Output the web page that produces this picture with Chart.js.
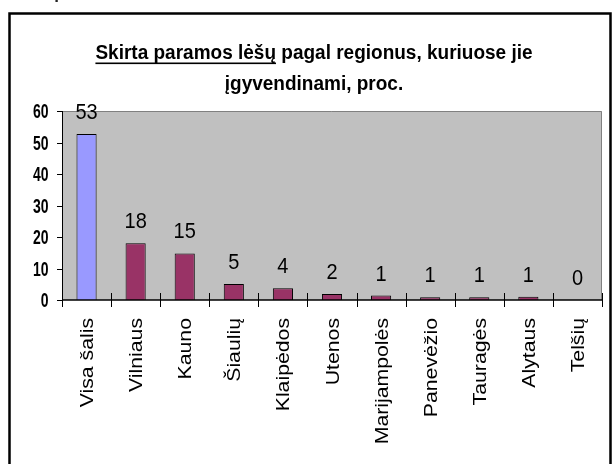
<!DOCTYPE html>
<html>
<head>
<meta charset="utf-8">
<script src="https://cdn.jsdelivr.net/npm/chart.js@4"></script>
<style>
  html, body { margin: 0; padding: 0; background: #fff; }
  #chart { display: block; }
</style>
</head>
<body>
<canvas id="chart" width="612" height="464"></canvas>
<script>
/* ---------- Data ---------- */
const categories = ["Visa šalis", "Vilniaus", "Kauno", "Šiaulių", "Klaipėdos", "Utenos",
  "Marijampolės", "Panevėžio", "Tauragės", "Alytaus", "Telšių"];
const shares = [52.7, 18.0, 14.8, 5.1, 3.7, 1.9, 1.4, 0.9, 0.9, 1.0, 0];
const yMax = 60;
const yStep = 10;
const titleLines = ["Skirta paramos lėšų pagal regionus, kuriuose jie", "įgyvendinami, proc."];
const underlinedPart = "Skirta paramos lėšų";

/* ---------- Styles ---------- */
const FONT = "'Liberation Sans', Arial, sans-serif";
const plotBg = "#C0C0C0";
const firstColor = "#9999FF";
const otherColor = "#993366";

// text that looks a bit stretched, like the scanned original
function stretchedText(ctx, text, x, y, sx, sy) {
  ctx.save();
  ctx.translate(x, y);
  ctx.scale(sx, sy);
  ctx.fillText(text, 0, 0);
  ctx.restore();
}

const framePlugin = {
  id: "frame",
  beforeDraw(chart) {
    const ctx = chart.ctx;
    const a = chart.chartArea;
    ctx.save();
    // cut text from the page above
    ctx.fillStyle = "#222";
    ctx.font = "bold 17px " + FONT;
    ctx.textBaseline = "alphabetic";
    ctx.fillText("1 pav.", 40, -1);
    // outer frame
    ctx.strokeStyle = "#000";
    ctx.lineWidth = 2.5;
    ctx.beginPath();
    ctx.moveTo(9.5, 470);
    ctx.lineTo(9.5, 13.5);
    ctx.lineTo(610.5, 13.5);
    ctx.lineTo(610.5, 470);
    ctx.stroke();
    // plot area
    ctx.fillStyle = plotBg;
    ctx.fillRect(a.left, a.top, a.right - a.left, a.bottom - a.top);
    ctx.strokeStyle = "#808080";
    ctx.lineWidth = 1;
    ctx.beginPath();
    ctx.moveTo(a.left, a.top + 0.5);
    ctx.lineTo(a.right - 0.5, a.top + 0.5);
    ctx.lineTo(a.right - 0.5, a.bottom);
    ctx.stroke();
    ctx.restore();
  }
};

const labelsPlugin = {
  id: "labels",
  afterDatasetsDraw(chart) {
    const ctx = chart.ctx;
    const x = chart.scales.x;
    const y = chart.scales.y;
    const a = chart.chartArea;
    ctx.save();
    // axes lines and tick marks
    ctx.strokeStyle = "#000";
    ctx.lineWidth = 1.5;
    ctx.beginPath();
    ctx.moveTo(a.left, a.bottom);
    ctx.lineTo(a.right, a.bottom);
    ctx.stroke();
    ctx.lineWidth = 1;
    ctx.beginPath();
    ctx.moveTo(a.left + 0.5, a.top);
    ctx.lineTo(a.left + 0.5, a.bottom);
    ctx.stroke();
    for (let i = 0; i <= categories.length; i++) {
      const px = Math.round(x.getPixelForValue(i - 0.5)) + 0.5;
      ctx.beginPath();
      ctx.moveTo(px, a.bottom - 7);
      ctx.lineTo(px, a.bottom + 7);
      ctx.stroke();
    }
    y.ticks.forEach((t) => {
      const py = Math.round(y.getPixelForValue(t.value)) + 0.5;
      ctx.beginPath();
      ctx.moveTo(a.left - 5, py);
      ctx.lineTo(a.left, py);
      ctx.stroke();
    });
    // y tick labels: bold, tall and narrow
    ctx.fillStyle = "#000";
    ctx.font = "bold 14px " + FONT;
    ctx.textAlign = "right";
    ctx.textBaseline = "middle";
    y.ticks.forEach((t) => {
      stretchedText(ctx, String(t.value), 48.5, y.getPixelForValue(t.value) + 1.5, 1, 1.45);
    });
    // value labels
    ctx.font = "20px " + FONT;
    ctx.textAlign = "center";
    chart.getDatasetMeta(0).data.forEach((bar, i) => {
      stretchedText(ctx, String(Math.round(shares[i])), bar.x, bar.y - 21, 1, 1.1);
    });
    // rotated category labels
    ctx.font = "18px " + FONT;
    ctx.textAlign = "right";
    ctx.textBaseline = "alphabetic";
    categories.forEach((name, i) => {
      ctx.save();
      ctx.translate(x.getPixelForValue(i), a.bottom + 18);
      ctx.rotate(-Math.PI / 2);
      ctx.scale(1.18, 1);
      ctx.fillText(name, 0, 6.5);
      ctx.restore();
    });
    // title
    const cx = 314;
    ctx.font = "bold 19px " + FONT;
    ctx.textAlign = "left";
    const w1 = ctx.measureText(titleLines[0]).width;
    const x1 = cx - w1 / 2;
    stretchedText(ctx, titleLines[0], x1, 59, 1, 1.08);
    const wu = ctx.measureText(underlinedPart).width;
    ctx.fillRect(x1, 62.5, wu, 1.6);
    ctx.textAlign = "center";
    stretchedText(ctx, titleLines[1], cx, 90, 1, 1.08);
    ctx.restore();
  }
};

new Chart(document.getElementById("chart"), {
  type: "bar",
  data: {
    labels: categories,
    datasets: [{
      data: shares,
      backgroundColor: categories.map((c, i) => (i === 0 ? firstColor : otherColor)),
      borderColor: "#000",
      borderWidth: 1,
      barPercentage: 0.41,
      categoryPercentage: 1
    }]
  },
  plugins: [framePlugin, labelsPlugin],
  options: {
    responsive: false,
    devicePixelRatio: 1,
    animation: false,
    layout: { padding: { left: 0, top: 111, right: 10, bottom: 0 } },
    plugins: {
      legend: { display: false },
      tooltip: { enabled: false }
    },
    scales: {
      x: {
        grid: { display: false },
        ticks: { display: false },
        border: { display: false },
        afterFit(scale) { scale.height = 164; }
      },
      y: {
        min: 0,
        max: yMax,
        ticks: { stepSize: yStep, display: false },
        grid: { display: false },
        border: { display: false },
        afterFit(scale) { scale.width = 62; }
      }
    }
  }
});
</script>
</body>
</html>
